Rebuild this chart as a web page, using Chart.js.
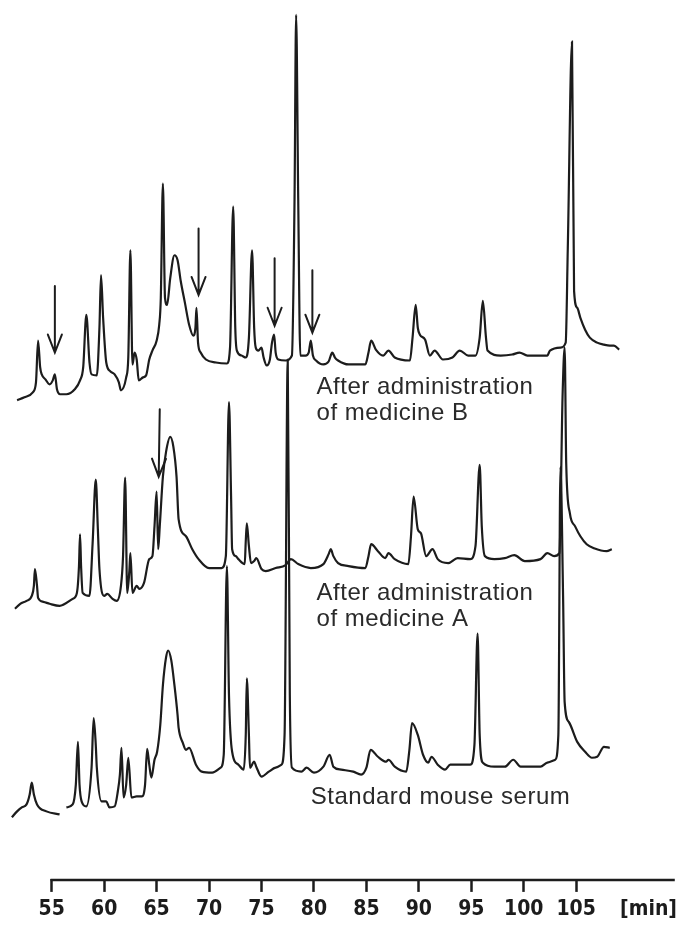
<!DOCTYPE html>
<html>
<head>
<meta charset="utf-8">
<script src="https://cdn.jsdelivr.net/npm/chart.js"></script>
<style>
  html, body { margin: 0; padding: 0; background: #fff; }
  canvas { display: block; }
</style>
</head>
<body>
<canvas id="chromatogram" width="683" height="927"></canvas>
<script>
// retention time [min] and detector response (arbitrary units, above each trace's own zero)
// after administration of medicine B (top trace)
const timesB = [
  51.7, 52.4, 53.2, 53.5, 53.7, 53.9, 54.05, 54.4, 54.8, 55.1,
  55.3, 55.5, 55.8, 56.4, 57.2, 57.7, 58.0, 58.3, 58.6, 58.8,
  59.3, 59.55, 59.7, 59.9, 60.2, 60.6, 61.0, 61.4, 61.6, 62.1,
  62.3, 62.5, 62.7, 62.9, 63.1, 63.3, 63.7, 64.0, 64.3, 64.6,
  65.0, 65.25, 65.4, 65.6, 65.8, 66.0, 66.3, 66.7, 67.0, 67.3,
  67.7, 68.1, 68.5, 68.7, 68.8, 68.95, 69.2, 69.7, 70.65, 71.7,
  72.0, 72.3, 72.5, 72.65, 73.1, 73.5, 73.8, 74.1, 74.3, 74.45,
  74.7, 75.0, 75.2, 75.5, 75.8, 76.0, 76.2, 76.35, 76.6, 77.3,
  77.9, 78.15, 78.3, 78.5, 78.7, 79.2, 79.5, 79.7, 79.9, 80.2,
  80.9, 81.4, 81.75, 82.0, 82.3, 83.3, 84.9, 85.2, 85.45, 85.9,
  86.6, 87.1, 87.7, 89.15, 89.4, 89.7, 89.9, 90.1, 90.6, 91.05,
  91.5, 92.3, 93.2, 93.9, 94.7, 95.4, 95.8, 96.1, 96.4, 96.55,
  97.8, 98.9, 99.6, 100.35, 102.25, 102.5, 103.5, 104.0, 104.2, 104.6,
  104.8, 105.1, 105.4, 105.85, 106.3, 107.0, 107.65, 108.2, 108.6, 109.1
];
const valuesB = [
  -0.6, 0, 1.0, 3.0, 11.4, 6, 4.6, 3.6, 2.6, 3.4,
  4.6, 1.6, 0.6, 0.6, 1.6, 3.4, 6, 16.6, 7, 4.6,
  4.4, 14, 24.6, 16, 7, 5.2, 4.6, 3, 1.4, 4,
  8, 29.6, 6.6, 9, 7.6, 3.4, 4, 4.4, 7.6, 9.4,
  11.4, 14.6, 20, 43, 20, 18.6, 24, 28.6, 27.6, 23.4,
  19, 14.6, 12.4, 14, 18, 11, 9, 7.6, 7, 6.8,
  10, 38.4, 14, 9.4, 8.4, 8, 12, 29.6, 14, 10,
  9.4, 10, 8, 6.4, 7.6, 11, 12.6, 9, 7.6, 7.4,
  8.4, 40, 77, 40, 8.4, 8.4, 9, 11.4, 8.4, 7.4,
  6.6, 7.2, 9, 8, 7.4, 6.6, 6.6, 9, 11.4, 9.6,
  8.4, 9.4, 8, 7.4, 12, 18.6, 14, 12.6, 11.6, 8.4,
  9.4, 7.6, 8, 9.4, 8.4, 8.4, 12, 19.4, 12, 9.4,
  8.4, 8.6, 9, 8.4, 8.4, 9.4, 10, 11, 30, 71.6,
  21.4, 18, 16, 13.6, 12, 11, 10.6, 10.4, 10.4, 9.6
];

// after administration of medicine A (middle trace)
const timesA = [
  51.5, 52.0, 52.6, 53.1, 53.3, 53.4, 53.6, 53.7, 54.2, 54.8,
  55.75, 57.0, 57.4, 57.6, 57.7, 57.8, 57.95, 58.6, 58.9, 59.2,
  59.4, 59.55, 60.0, 60.3, 60.8, 61.2, 61.6, 61.8, 62.0, 62.2,
  62.4, 62.5, 62.7, 63.1, 63.35, 63.8, 64.3, 64.6, 64.8, 65.0,
  65.15, 65.3, 65.6, 65.9, 66.3, 66.6, 66.9, 67.1, 67.8, 68.4,
  69.0, 70.0, 71.2, 71.6, 71.9, 72.1, 72.2, 72.55, 72.8, 73.4,
  73.5, 73.6, 73.8, 74.0, 74.3, 74.5, 75.0, 75.4, 76.35, 77.3,
  77.8, 78.5, 79.7, 80.9, 81.4, 81.6, 81.85, 82.3, 83.3, 84.9,
  85.2, 85.45, 86.1, 86.8, 87.1, 87.7, 89.0, 89.25, 89.5, 89.9,
  90.2, 90.7, 91.3, 91.8, 92.8, 93.7, 94.9, 95.4, 95.8, 96.0,
  96.3, 97.2, 98.2, 99.1, 100.1, 101.6, 102.25, 102.9, 103.4, 103.7,
  103.9, 104.05, 104.4, 104.9, 105.4, 106.0, 106.7, 107.9, 108.4
];
const valuesA = [
  0.4, 1.4, 2, 3, 5, 8.4, 5, 2.6, 1.8, 1.4,
  1, 2.4, 3.6, 9, 15.4, 9, 3.6, 3, 13.6, 26.4,
  16.4, 8.4, 3, 3.4, 2.4, 2, 5, 11, 26.8, 3.6,
  8, 11.6, 3.6, 5, 4.4, 5.6, 10.4, 11, 17, 24,
  12.4, 17, 27, 32, 35, 33, 27, 18.4, 15, 12.4,
  10.4, 8.6, 8.6, 11, 42, 23, 12.4, 11, 10.4, 9.4,
  14, 17.6, 13, 9.6, 10, 10.6, 8.4, 8, 8.6, 9.2,
  10.4, 9.4, 8.6, 9.4, 11.4, 12.4, 11, 9.6, 9, 8.6,
  11, 13.4, 12, 10.6, 11.6, 10.4, 9.4, 15, 23, 16.4,
  15.6, 11, 12.4, 10.4, 9.6, 10.6, 10.4, 13, 29.4, 17,
  11, 10.4, 10.6, 11.2, 10, 10.4, 11.6, 11, 11.6, 43,
  53, 29.6, 19.6, 17, 15, 13.4, 12.6, 12, 12.4
];

// standard mouse serum (bottom trace); null = break in the recorder line
const timesS = [
  51.2, 51.7, 52.15, 52.6, 52.9, 53.1, 53.3, 53.6, 54.5, 55.75,
  56.1, 56.4, 57.0, 57.3, 57.5, 57.65, 57.85, 58.3, 58.8, 59.0,
  59.2, 59.3, 59.75, 60.2, 60.5, 61.0, 61.3, 61.5, 61.65, 61.85,
  62.1, 62.3, 62.6, 63.1, 63.6, 63.9, 64.1, 64.3, 64.5, 64.8,
  65.05, 65.35, 65.6, 65.9, 66.1, 66.4, 66.7, 67.0, 67.1, 67.5,
  67.8, 68.1, 68.75, 69.3, 70.3, 71.1, 71.4, 71.7, 71.9, 72.2,
  72.8, 73.3, 73.5, 73.6, 73.8, 73.9, 74.3, 74.5, 75.0, 75.7,
  76.35, 76.9, 77.2, 77.5, 77.7, 77.9, 78.8, 79.3, 80.0, 80.9,
  81.5, 81.85, 82.6, 83.75, 84.5, 85.0, 85.4, 86.1, 86.9, 87.1,
  87.7, 88.8, 89.1, 89.35, 89.9, 90.4, 90.9, 91.2, 91.8, 92.5,
  93.0, 94.9, 95.3, 95.6, 95.8, 96.1, 97.2, 98.2, 99.0, 99.7,
  101.6, 102.25, 103.0, 103.3, 103.5, 103.75, 103.9, 104.3, 105.1, 105.85,
  106.5, 107.0, 107.65, 108.2
];
const valuesS = [
  0.4, 1.6, 2.4, 3, 5, 7.4, 5, 3, 1.6, 1,
  null, 2.4, 3, 7, 15.6, 7, 3.6, 2.6, 10.4, 20.4,
  15, 10.4, 3.6, 3.6, 2.4, 2.6, 5.6, 9, 14.4, 4.4,
  7, 12.4, 4.4, 4.6, 4.6, 7, 14.2, 11, 8.4, 12,
  13.6, 19, 27, 32.6, 34, 32, 27, 21, 18.4, 15.4,
  14, 14.4, 11, 9.6, 9.4, 10.4, 13, 51, 25, 13.6,
  11, 10, 17, 28.4, 17, 10.4, 11.6, 10.6, 8.6, 9.6,
  10.4, 11, 17, 92.6, 25, 10.4, 9.6, 10.4, 9.4, 10.6,
  13, 10.6, 10, 9.6, 9, 10.4, 14, 12.6, 11.6, 12,
  10.6, 9.6, 14, 19.4, 17, 13, 11.4, 12.6, 11, 10,
  11, 11, 15, 37.4, 17, 11.4, 10.6, 10.6, 12, 10.6,
  10.6, 11.4, 12, 17, 71, 45, 23.6, 19.6, 15.6, 13.6,
  12.4, 12.6, 14.6, 14.4
];

// time axis
const tickValues = [55, 60, 65, 70, 75, 80, 85, 90, 95, 100, 105, 111.9];
const tickLabels = ['55', '60', '65', '70', '75', '80', '85', '90', '95', '100', '105', '[min]'];
const axisStart = 55;
const axisEnd = 114.4;

// marker arrows: trace, tail and tip (time, response)
const arrowAxes = ['yB', 'yB', 'yB', 'yB', 'yA'];
const arrowTailTimes = [55.3, 69.0, 76.25, 79.85, 65.3];
const arrowTipTimes = [55.3, 69.0, 76.25, 79.85, 65.2];
const arrowTailValues = [22.4, 34, 28, 25.6, 40.6];
const arrowTipValues = [9, 20.6, 14.4, 13, 27];

const ink = '#1c1c1c';

const notes = [
  { axis: 'yB', t: 80.25, v: 2.0, lines: ['After administration', 'of medicine B'] },
  { axis: 'yA', t: 80.25, v: 3.6, lines: ['After administration', 'of medicine A'] },
  { axis: 'yS', t: 79.7, v: 4.4, lines: ['Standard mouse serum'] }
];

function series(times, values) {
  return times.map((t, i) => ({ x: t, y: values[i] }));
}

const overlay = {
  id: 'overlay',
  afterDatasetsDraw(chart) {
    const { ctx, chartArea, scales } = chart;
    const x = scales.x;
    ctx.save();

    // time axis line, starting at the 55 min tick
    ctx.strokeStyle = ink;
    ctx.lineWidth = 2.5;
    const yb = chartArea.bottom + 1;
    ctx.beginPath();
    ctx.moveTo(x.getPixelForValue(axisStart) - 1.2, yb);
    ctx.lineTo(x.getPixelForValue(axisEnd), yb);
    ctx.stroke();

    // arrows
    ctx.lineWidth = 2;
    ctx.lineCap = 'round';
    arrowAxes.forEach((id, i) => {
      const y = scales[id];
      const x0 = x.getPixelForValue(arrowTailTimes[i]);
      const y0 = y.getPixelForValue(arrowTailValues[i]);
      const x1 = x.getPixelForValue(arrowTipTimes[i]);
      const y1 = y.getPixelForValue(arrowTipValues[i]);
      const len = Math.hypot(x1 - x0, y1 - y0);
      const dx = (x1 - x0) / len, dy = (y1 - y0) / len;
      const back = 18, half = 7;
      const bx = x1 - dx * back, by = y1 - dy * back;
      ctx.beginPath();
      ctx.moveTo(x0, y0);
      ctx.lineTo(x1, y1);
      ctx.moveTo(bx - dy * half, by + dx * half);
      ctx.lineTo(x1, y1);
      ctx.lineTo(bx + dy * half, by - dx * half);
      ctx.stroke();
    });

    // trace captions
    ctx.fillStyle = '#2a2a2a';
    ctx.font = '24px "Liberation Sans", Arial, sans-serif';
    ctx.textBaseline = 'middle';
    ctx.textAlign = 'left';
    if ('letterSpacing' in ctx) ctx.letterSpacing = '0.5px';
    notes.forEach(n => {
      const px = x.getPixelForValue(n.t);
      const py = scales[n.axis].getPixelForValue(n.v);
      n.lines.forEach((line, k) => ctx.fillText(line, px, py + k * 26));
    });
    ctx.restore();
  }
};

const traceStyle = {
  borderColor: ink,
  borderWidth: 2.2,
  pointRadius: 0,
  cubicInterpolationMode: 'monotone',
  spanGaps: false,
  clip: false
};

new Chart(document.getElementById('chromatogram'), {
  type: 'line',
  data: {
    datasets: [
      Object.assign({ label: 'After administration of medicine B', data: series(timesB, valuesB), yAxisID: 'yB' }, traceStyle),
      Object.assign({ label: 'After administration of medicine A', data: series(timesA, valuesA), yAxisID: 'yA' }, traceStyle),
      Object.assign({ label: 'Standard mouse serum', data: series(timesS, valuesS), yAxisID: 'yS' }, traceStyle)
    ]
  },
  options: {
    responsive: false,
    animation: false,
    events: [],
    layout: { padding: 0 },
    plugins: {
      legend: { display: false },
      tooltip: { enabled: false },
      title: { display: false }
    },
    scales: {
      x: {
        type: 'linear',
        position: 'bottom',
        min: 50.07,
        max: 114.87,
        afterBuildTicks: s => { s.ticks = tickValues.map(v => ({ value: v })); },
        border: { display: false },
        grid: {
          display: true,
          drawOnChartArea: false,
          drawTicks: true,
          tickLength: 13,
          tickWidth: 2.5,
          tickColor: c => (c.index === tickValues.length - 1 ? 'rgba(0,0,0,0)' : ink)
        },
        ticks: {
          autoSkip: false,
          maxRotation: 0,
          padding: 6,
          color: ink,
          font: { family: '"Liberation Sans Narrow", "DejaVu Sans Condensed", "Liberation Sans", sans-serif', size: 21, weight: 'bold', lineHeight: 1.1 },
          callback: (v, i) => tickLabels[i]
        }
      },
      // one hidden response axis per trace, offset so that the traces stack
      yB: { type: 'linear', display: false, min: -97, max: 80 },
      yA: { type: 'linear', display: false, min: -54, max: 123 },
      yS: { type: 'linear', display: false, min: -12, max: 165 }
    }
  },
  plugins: [overlay]
});
</script>
</body>
</html>
